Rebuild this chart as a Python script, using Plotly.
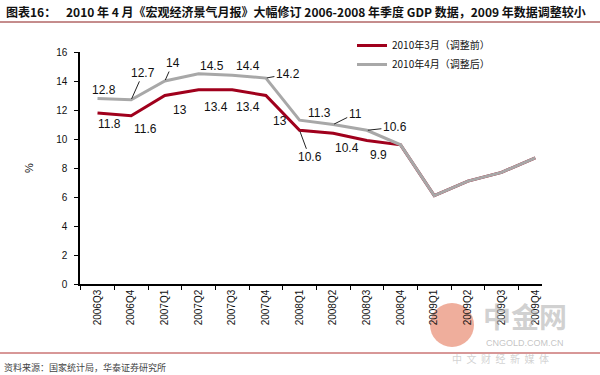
import plotly.graph_objects as go

categories = ["2006Q3", "2006Q4", "2007Q1", "2007Q2", "2007Q3", "2007Q4",
              "2008Q1", "2008Q2", "2008Q3", "2008Q4",
              "2009Q1", "2009Q2", "2009Q3", "2009Q4"]
before = [11.8, 11.6, 13.0, 13.4, 13.4, 13.0, 10.6, 10.4, 9.9, 9.6, 6.1, 7.1, 7.7, 8.7]
after = [12.8, 12.7, 14.0, 14.5, 14.4, 14.2, 11.3, 11.0, 10.6, 9.6, 6.1, 7.1, 7.7, 8.7]
name_before = "2010年3月（调整前）"
name_after = "2010年4月（调整后）"
labeled = 9  # first 9 points carry data labels

W, H = 600, 375
L, R, T, B = 80, 58, 52, 91
pw, ph = W - L - R, H - T - B

def px(x):
    return (x - L) / pw

def py(y):
    return (H - B - y) / ph

RED = "#A0001C"
GRAY = "#A8A8A8"
FONT = "Liberation Sans, Arial, sans-serif"
CJK = "Noto Sans CJK SC, sans-serif"

fig = go.Figure()
fig.add_trace(go.Scatter(x=categories, y=before, mode="lines", name=name_before,
                         line=dict(color=RED, width=3)))
fig.add_trace(go.Scatter(x=categories, y=after, mode="lines", name=name_after,
                         line=dict(color=GRAY, width=3)))

# label offsets (pixels): (dx, dy up, leader)
after_off = [(6, 8, False), (12, 27, True), (8, 18, True), (13, 8, False), (16, 9, False),
             (22, 4, True), (20, 7, False), (22, 11, True), (28, 3, True)]
before_off = [(12, -11, False), (14, -13, False), (15, -14, False), (17, -17, False),
              (16, -17, False), (14, -25, False), (10, -27, True), (14, -15, False),
              (12, -15, False)]

ann = []
for series, offs in ((after, after_off), (before, before_off)):
    for i in range(labeled):
        dx, dy, lead = offs[i]
        v = series[i]
        txt = ("%g" % v)
        if lead:
            ann.append(dict(x=categories[i], y=v, xref="x", yref="y", text=txt,
                            showarrow=True, arrowhead=0, arrowwidth=1, arrowcolor="#222",
                            ax=dx, ay=-dy, standoff=1,
                            font=dict(family=FONT, size=12, color="#111")))
        else:
            ann.append(dict(x=categories[i], y=v, xref="x", yref="y", text=txt,
                            showarrow=False, xshift=dx, yshift=dy,
                            font=dict(family=FONT, size=12, color="#111")))

# title and footer
ann.append(dict(x=px(4), y=py(11), xref="paper", yref="paper", xanchor="left", yanchor="middle",
                text="<b>图表16：</b>", showarrow=False,
                font=dict(family=CJK, size=12, color="#111")))
ann.append(dict(x=px(64), y=py(11), xref="paper", yref="paper", xanchor="left", yanchor="middle",
                text="<b>2010 年 4 月《宏观经济景气月报》大幅修订 2006-2008 年季度 GDP 数据，2009 年数据调整较小</b>",
                showarrow=False, font=dict(family=CJK, size=12, color="#111")))
ann.append(dict(x=px(2), y=py(367), xref="paper", yref="paper", xanchor="left", yanchor="middle",
                text="资料来源：国家统计局，华泰证券研究所", showarrow=False,
                font=dict(family=CJK, size=9, color="#444")))
# watermark
ann.append(dict(x=px(525), y=py(316), xref="paper", yref="paper", xanchor="center", yanchor="middle",
                text="<b>中金网</b>", showarrow=False,
                font=dict(family=CJK, size=28, color="rgba(170,170,170,0.55)")))
ann.append(dict(x=px(525), y=py(343), xref="paper", yref="paper", xanchor="center", yanchor="middle",
                text="CNGOLD.COM.CN", showarrow=False,
                font=dict(family=FONT, size=9, color="rgba(170,170,170,0.7)")))
ann.append(dict(x=px(500), y=py(358), xref="paper", yref="paper", xanchor="center", yanchor="middle",
                text="中  文  财  经  新  媒  体", showarrow=False,
                font=dict(family=CJK, size=10, color="rgba(190,190,190,0.7)")))

shapes = [
    dict(type="line", xref="paper", yref="paper", x0=px(0), x1=px(600), y0=py(22), y1=py(22),
         line=dict(color="#8B1A1A", width=1)),
    dict(type="line", xref="paper", yref="paper", x0=px(0), x1=px(600), y0=py(353), y1=py(353),
         line=dict(color="#B03030", width=1)),
    dict(type="circle", xref="paper", yref="paper", x0=px(430), x1=px(474), y0=py(303), y1=py(347),
         fillcolor="rgba(228,120,90,0.6)", line=dict(width=0), layer="below"),
]

fig.update_layout(
    width=W, height=H,
    margin=dict(l=L, r=R, t=T, b=B, autoexpand=False),
    paper_bgcolor="white", plot_bgcolor="rgba(0,0,0,0)",
    font=dict(family=FONT, size=10, color="#111"),
    showlegend=True,
    legend=dict(x=px(352), y=py(31), xanchor="left", yanchor="top",
                font=dict(family=CJK, size=10, color="#111"),
                bgcolor="rgba(0,0,0,0)", tracegroupgap=0, itemwidth=30),
    xaxis=dict(type="category", range=[-0.52, 13.2], showline=True, linecolor="black", linewidth=1.5,
               ticks="outside", ticklen=4, tickcolor="black", tickson="boundaries",
               tickangle=-90, showgrid=False, zeroline=False, automargin=False,
               tickfont=dict(family=FONT, size=10)),
    yaxis=dict(range=[0, 16], dtick=2, showline=True, linecolor="black", linewidth=1.5,
               ticks="outside", ticklen=4, tickcolor="black", showgrid=False, zeroline=False,
               automargin=False, ticklabelstandoff=5,
               tickfont=dict(family=FONT, size=10),
               title=dict(text="%", font=dict(family=FONT, size=11), standoff=20)),
    annotations=ann,
    shapes=shapes,
)

fig.write_html("out.html", config={"displayModeBar": False},
               post_script="document.body.style.margin='0';document.body.style.overflow='hidden';")
